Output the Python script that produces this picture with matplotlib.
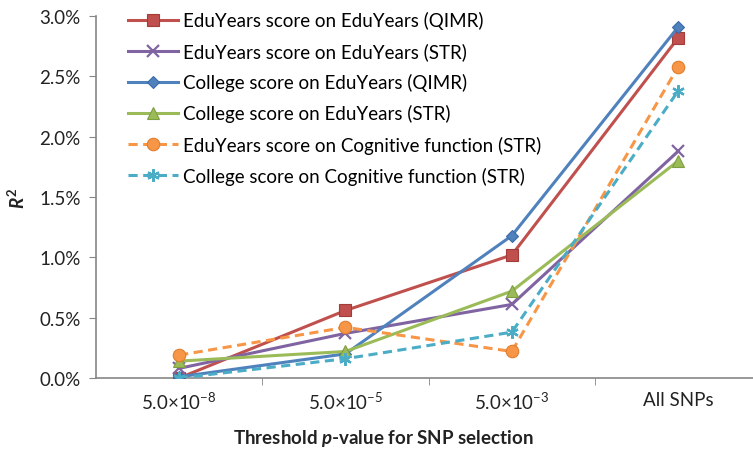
import numpy as np
import matplotlib
matplotlib.use("Agg")
import matplotlib.pyplot as plt
from matplotlib.ticker import FixedLocator, NullFormatter

plt.rcParams['font.family'] = ['Lato', 'DejaVu Sans']
plt.rcParams['mathtext.fontset'] = 'custom'
plt.rcParams['mathtext.rm'] = 'Lato'
plt.rcParams['mathtext.it'] = 'Lato:bold:italic'
plt.rcParams['mathtext.bf'] = 'Lato:bold'

# Data (R^2 in %)
categories = [r'5.0×10$^{\mathrm{-8}}$', r'5.0×10$^{\mathrm{-5}}$',
              r'5.0×10$^{\mathrm{-3}}$', 'All SNPs']
labels = [
    'EduYears score on EduYears (QIMR)',
    'EduYears score on EduYears (STR)',
    'College score on EduYears (QIMR)',
    'College score on EduYears (STR)',
    'EduYears score on Cognitive function (STR)',
    'College score on Cognitive function (STR)',
]
edu_qimr = [0.00, 0.56, 1.02, 2.82]
edu_str = [0.08, 0.37, 0.61, 1.88]
college_qimr = [0.01, 0.20, 1.18, 2.91]
college_str = [0.14, 0.22, 0.72, 1.80]
edu_cog_str = [0.19, 0.42, 0.22, 2.58]
college_cog_str = [0.00, 0.16, 0.38, 2.38]

series = [edu_qimr, edu_str, college_qimr, college_str, edu_cog_str, college_cog_str]
colors = ['#C0504D', '#8064A2', '#4F81BD', '#9BBB59', '#F79646', '#4BACC6']
edges = ['#A33C39', '#8064A2', '#3A6CA8', '#7F9E40', '#E07E2E', '#4BACC6']
markers = ['s', 'x', 'D', '^', 'o', (6, 2, 0)]
msizes = [8, 8, 6, 8, 9, 9]
dashed = [False, False, False, False, True, True]

fig = plt.figure(figsize=(7.53, 4.52), dpi=100)
ax = fig.add_axes([0.1275, 0.1615, 0.8725, 0.8005])

x = np.arange(len(categories))
for vals, lab, c, ec, m, ms, d in zip(series, labels, colors, edges, markers, msizes, dashed):
    ax.plot(x, vals, color=c, lw=2.2, marker=m, markersize=ms,
            markerfacecolor=c, markeredgecolor=ec, markeredgewidth=1.6 if m in ('x', (6, 2, 0)) else 0.8,
            linestyle=(0, (3, 1.8)) if d else '-', label=lab, zorder=3)

ax.set_xlim(-0.5, 3.45)
ax.set_ylim(0, 3.0)
ax.set_yticks(np.arange(0, 3.01, 0.5))
ax.set_yticklabels(['%.1f%%' % v for v in np.arange(0, 3.01, 0.5)])

# labels centered on categories, tick marks between categories
ax.set_xticks(x)
ax.set_xticklabels(categories)
ax.xaxis.set_minor_locator(FixedLocator([0.5, 1.5, 2.5]))
ax.xaxis.set_minor_formatter(NullFormatter())
ax.tick_params(axis='x', which='major', length=0, pad=9, labelsize=13.5, colors='#222222')
ax.tick_params(axis='x', which='minor', length=5, color='#868686', direction='out')
ax.tick_params(axis='y', length=5, color='#868686', labelsize=13.5, labelcolor='#222222', pad=6)

for s in ['top', 'right']:
    ax.spines[s].set_visible(False)
for s in ['left', 'bottom']:
    ax.spines[s].set_color('#868686')
    ax.spines[s].set_linewidth(1.2)

ax.set_xlabel(r'Threshold $p$-value for SNP selection', fontsize=13.5,
              fontweight='bold', color='#222222')
ax.xaxis.set_label_coords(0.437, -0.135)
ax.set_ylabel(r'$R^{\mathbf{2}}$', fontsize=13.5, labelpad=8, color='#222222')

ax.legend(loc='upper left', bbox_to_anchor=(0.037, 1.035), frameon=False,
          fontsize=13.5, handlelength=2.7, handletextpad=0.25, labelspacing=0.7,
          borderaxespad=0)

fig.savefig('out.png', dpi=100)
